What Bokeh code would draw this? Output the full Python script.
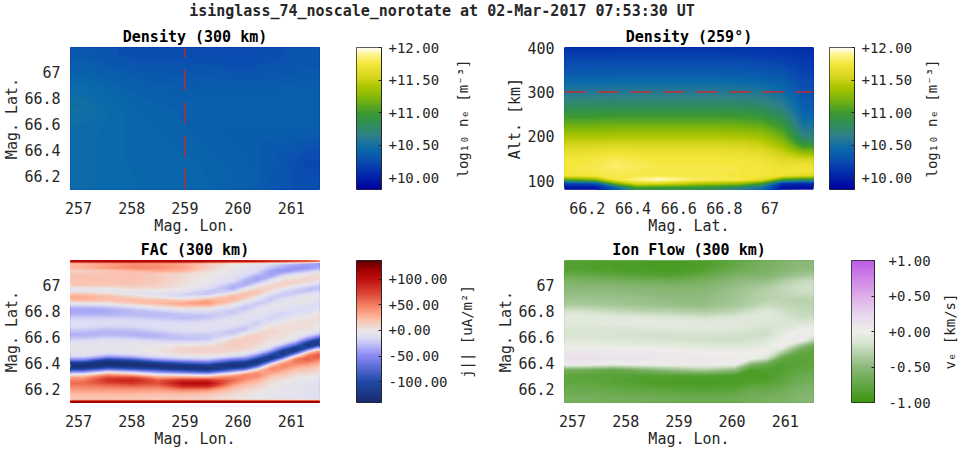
import numpy as np
from bokeh.embed import file_html
from bokeh.resources import INLINE
from bokeh.layouts import column, row
from bokeh.models import Range1d, FixedTicker, LinearColorMapper, Label, Title
from bokeh.plotting import figure

# ---------- text ----------
MAIN_TITLE = "isinglass_74_noscale_norotate at 02-Mar-2017 07:53:30 UT"
LON_TICKS = [257, 258, 259, 260, 261]
LAT_TICKS = [66.2, 66.4, 66.6, 66.8, 67]
LAT_TICK_LABELS = ["66.2", "66.4", "66.6", "66.8", "67"]
ALT_TICKS = [100, 200, 300, 400]
NE_TICKS = [10.0, 10.5, 11.0, 11.5, 12.0]
NE_LABELS = ["+10.00", "+10.50", "+11.00", "+11.50", "+12.00"]
J_TICKS = [-100, -50, 0, 50, 100]
J_LABELS = ["-100.00", "-50.00", "+0.00", "+50.00", "+100.00"]
V_TICKS = [-1, -0.5, 0, 0.5, 1]
V_LABELS = ["-1.00", "-0.50", "+0.00", "+0.50", "+1.00"]

LON_RANGE = (256.85, 261.53)
LAT_RANGE = (66.10, 67.19)
ALT_RANGE = (80, 400)
NE_RANGE = (9.82, 12.0)
J_RANGE = (-141, 137)
V_RANGE = (-1.0, 1.0)
SLICE_LON = 259
SLICE_ALT = 300

# ---------- colour maps (value, colour) ----------
NE_ANCHOR_V = [9.82, 10.0, 10.25, 10.45, 10.65, 10.85, 11.0, 11.2, 11.4, 11.55, 11.75, 11.9, 12.0]
NE_ANCHOR_C = ["#00009E", "#0020A8", "#0A4DB0", "#0A6AAA", "#2F8088", "#2F9050", "#3E9A30",
               "#79B40E", "#ADC600", "#D5D51C", "#F5E63C", "#FFF590", "#FFFFFF"]
J_ANCHOR_V = [-141, -100, -50, -15, 0, 25, 50, 75, 100, 120, 137]
J_ANCHOR_C = ["#1A2A6C", "#1F4BA8", "#8888F5", "#DCDCF5", "#EAE6E6", "#FFB8A0", "#F57F60",
              "#D94030", "#C01010", "#A00000", "#5A0000"]
V_ANCHOR_V = [-1, -0.5, -0.15, 0, 0.25, 0.5, 1]
V_ANCHOR_C = ["#3A9611", "#8DB97A", "#D8E5D2", "#EEEEEA", "#E8D5EE", "#DFADE8", "#BE5CE6"]

# ---------- Density at 300 km: rows from top to bottom ----------
NE_300 = [
    [10.33, 10.28, 10.27, 10.26, 10.25, 10.24, 10.24, 10.27, 10.30],
    [10.40, 10.36, 10.33, 10.32, 10.32, 10.31, 10.30, 10.31, 10.33],
    [10.46, 10.42, 10.38, 10.36, 10.35, 10.36, 10.36, 10.36, 10.37],
    [10.50, 10.45, 10.41, 10.39, 10.38, 10.38, 10.38, 10.38, 10.38],
    [10.47, 10.44, 10.42, 10.40, 10.38, 10.36, 10.36, 10.36, 10.37],
    [10.46, 10.44, 10.42, 10.41, 10.40, 10.37, 10.35, 10.33, 10.30],
    [10.46, 10.44, 10.42, 10.42, 10.41, 10.39, 10.36, 10.31, 10.22],
    [10.46, 10.44, 10.43, 10.42, 10.42, 10.40, 10.37, 10.30, 10.26],
]

# ---------- Density slice: one list per latitude, altitude from top to bottom ----------
NE_S0 = [10.12,10.15,10.19,10.23,10.26,10.30,10.34,10.39,10.44,10.49,10.54,10.59,10.65,10.71,10.77,10.84,10.91,10.99,11.07,11.15,11.23,11.31,11.39,11.47,11.54,11.61,11.67,11.71,11.74,11.75,11.76,11.76,11.72,11.10,10.20,9.95]
NE_S1 = [10.12,10.15,10.19,10.23,10.26,10.30,10.34,10.39,10.44,10.49,10.54,10.59,10.65,10.71,10.77,10.84,10.91,10.99,11.07,11.15,11.23,11.31,11.39,11.47,11.55,11.62,11.68,11.73,11.76,11.77,11.78,11.77,11.75,11.25,10.30,9.95]
NE_S2 = [10.12,10.16,10.20,10.24,10.27,10.31,10.35,10.40,10.45,10.50,10.55,10.60,10.66,10.72,10.78,10.85,10.92,11.00,11.08,11.16,11.24,11.32,11.40,11.48,11.56,11.64,11.71,11.76,11.80,11.83,11.83,11.80,11.78,11.75,11.20,10.40]
NE_S3 = [10.12,10.16,10.20,10.24,10.27,10.31,10.35,10.40,10.45,10.50,10.55,10.60,10.66,10.72,10.78,10.85,10.92,11.00,11.08,11.16,11.24,11.32,11.40,11.48,11.56,11.63,11.69,11.74,11.77,11.79,11.80,11.78,11.78,11.88,11.60,11.00]
NE_S4 = [10.12,10.16,10.20,10.24,10.27,10.31,10.35,10.40,10.45,10.50,10.55,10.60,10.66,10.72,10.78,10.85,10.92,11.00,11.08,11.16,11.24,11.32,11.40,11.48,11.55,11.62,11.68,11.72,11.75,11.76,11.77,11.77,11.78,11.98,11.60,10.95]
NE_S5 = [10.12,10.16,10.20,10.24,10.27,10.31,10.35,10.40,10.45,10.50,10.55,10.60,10.66,10.72,10.78,10.85,10.92,11.00,11.08,11.16,11.24,11.32,11.40,11.48,11.55,11.62,11.68,11.72,11.75,11.76,11.77,11.77,11.76,11.90,11.50,10.95]
NE_S6 = [10.12,10.16,10.20,10.24,10.27,10.31,10.35,10.40,10.45,10.50,10.55,10.60,10.66,10.72,10.78,10.85,10.92,11.00,11.08,11.16,11.24,11.32,11.40,11.48,11.55,11.62,11.68,11.72,11.75,11.76,11.77,11.77,11.76,11.82,11.40,10.90]
NE_S7 = [10.12,10.16,10.20,10.24,10.27,10.31,10.35,10.40,10.45,10.50,10.55,10.60,10.66,10.72,10.78,10.85,10.92,11.00,11.08,11.16,11.24,11.32,11.40,11.48,11.55,11.62,11.68,11.72,11.75,11.76,11.77,11.77,11.76,11.80,11.35,10.85]
NE_S8 = [10.12,10.15,10.19,10.23,10.26,10.30,10.34,10.39,10.44,10.49,10.54,10.59,10.65,10.71,10.77,10.84,10.91,10.99,11.07,11.15,11.23,11.31,11.39,11.47,11.54,11.61,11.67,11.71,11.74,11.75,11.76,11.76,11.75,11.78,11.30,10.70]
NE_S9 = [10.11,10.15,10.18,10.22,10.25,10.29,10.33,10.37,10.42,10.47,10.52,10.57,10.62,10.68,10.74,10.81,10.88,10.95,11.03,11.11,11.19,11.27,11.35,11.43,11.50,11.57,11.63,11.68,11.72,11.74,11.75,11.75,11.74,11.65,11.00,10.50]
NE_S10 = [10.10,10.13,10.16,10.19,10.22,10.26,10.29,10.32,10.36,10.40,10.44,10.48,10.53,10.58,10.63,10.68,10.74,10.80,10.87,10.94,11.01,11.09,11.17,11.25,11.33,11.41,11.49,11.56,11.62,11.67,11.71,11.73,11.70,11.00,10.10,9.95]
NE_S11 = [10.08,10.10,10.12,10.14,10.16,10.18,10.20,10.22,10.24,10.26,10.28,10.30,10.32,10.34,10.36,10.38,10.41,10.44,10.48,10.52,10.57,10.63,10.70,10.80,10.92,11.08,11.26,11.44,11.58,11.68,11.72,11.72,11.60,10.85,10.05,9.90]

# ---------- FAC: one list per longitude, latitude from top to bottom ----------
J_LONS = [257.08, 257.55, 258.02, 258.49, 258.96, 259.43, 259.90, 260.14, 260.37, 260.61, 260.84, 261.08, 261.31, 261.51]
J_C0 = [110,25,28,12,16,20,20,20,15,-4,-2,22,32,22,-3,-25,-38,-38,-30,-20,-14,-12,-14,-22,-30,-30,-22,-10,-6,-4,-4,-6,-18,-50,-110,-135,-120,-60,-5,35,50,58,50,40,30,22,15,125]
J_C1 = [115,35,38,15,18,20,20,18,14,0,-3,12,22,20,0,-20,-34,-36,-30,-20,-14,-14,-20,-28,-32,-26,-14,-8,-6,-6,-8,-16,-45,-105,-135,-130,-85,-20,35,70,85,72,55,42,30,22,15,125]
J_C2 = [115,42,46,25,18,20,20,18,15,6,-6,-2,14,24,14,-10,-24,-30,-28,-20,-14,-14,-18,-26,-32,-30,-18,-8,-4,-2,-4,-10,-32,-85,-130,-135,-100,-35,20,70,92,80,60,42,30,22,14,125]
J_C3 = [115,40,44,32,14,15,15,14,12,6,-4,-10,2,20,24,6,-14,-26,-30,-24,-16,-12,-12,-18,-26,-32,-26,-12,-4,0,2,-2,-14,-45,-105,-135,-115,-60,-10,35,65,68,55,40,28,20,12,125]
J_C4 = [115,32,35,28,8,6,6,5,4,0,-8,-20,-10,14,34,18,-6,-18,-26,-28,-20,-12,-10,-12,-18,-24,-26,-16,0,8,10,6,-8,-30,-80,-128,-130,-80,-20,35,85,105,85,55,32,20,12,125]
J_C5 = [112,15,14,6,2,0,-2,-3,-6,-14,-25,-22,4,32,40,18,-6,-16,-24,-24,-16,-10,-8,-10,-18,-24,-24,-14,2,10,12,8,-6,-25,-65,-118,-135,-95,-30,30,85,108,88,50,28,16,8,125]
J_C6 = [105,0,-2,-4,-6,-8,-12,-20,-33,-34,-18,12,28,22,6,-8,-20,-25,-18,-10,-6,-8,-14,-22,-25,-14,6,14,14,12,10,0,-20,-60,-110,-135,-105,-45,15,50,60,48,32,20,12,6,3,125]
J_C6B = [102,-3,-6,-9,-13,-20,-30,-37,-30,-8,10,22,16,2,-14,-23,-24,-15,-8,-7,-10,-16,-22,-22,-8,8,13,13,12,10,4,-8,-30,-70,-120,-130,-85,-15,42,50,40,28,18,10,5,3,0,125]
J_C7 = [100,-6,-10,-15,-25,-38,-40,-24,-4,10,20,12,-2,-14,-24,-18,-8,-4,-6,-12,-18,-22,-14,-2,8,12,12,10,8,4,-8,-30,-70,-120,-130,-85,-20,30,48,40,28,18,10,6,2,0,-2,125]
J_C7B = [92,-14,-25,-38,-42,-35,-16,-2,10,12,2,-12,-22,-24,-14,-6,-5,-10,-15,-19,-14,-4,4,8,8,7,5,2,-4,-16,-38,-85,-130,-115,-50,15,45,40,28,16,9,4,1,-2,-3,-4,-4,125]
J_C8 = [85,-20,-38,-45,-30,-8,4,12,12,0,-16,-24,-18,-8,-3,-4,-10,-16,-18,-12,-4,2,6,6,5,4,2,-6,-24,-60,-115,-130,-95,-30,30,50,42,30,18,10,4,0,-3,-5,-5,-6,-6,125]
J_C8B = [78,-30,-45,-38,-16,0,8,10,-2,-18,-25,-20,-8,-4,-5,-10,-15,-16,-8,-1,4,5,5,4,2,-3,-12,-30,-70,-120,-125,-65,10,52,52,38,25,15,8,2,-2,-5,-6,-7,-7,-7,-7,125]
J_C9 = [70,-38,-45,-28,-6,6,10,4,-14,-26,-24,-10,-4,-4,-8,-14,-16,-12,-4,2,4,5,4,2,-4,-20,-50,-100,-130,-105,-35,30,58,62,48,32,20,12,5,0,-4,-6,-8,-8,-8,-8,-8,125]
J_C9B = [60,-42,-35,-14,4,10,6,-8,-22,-25,-15,-6,-3,-6,-11,-13,-8,-2,3,5,5,3,1,-4,-16,-45,-95,-130,-110,-40,25,58,65,50,34,22,14,8,2,-3,-6,-8,-9,-9,-9,-9,-9,125]

# ---------- Ion flow: one list per longitude, latitude from top to bottom ----------
V_LONS = [257.15, 257.73, 258.32, 258.90, 259.48, 260.06, 260.35, 260.65, 260.93, 261.23, 261.49]
V_C0 = [-0.85,-0.85,-0.72,-0.60,-0.52,-0.47,-0.42,-0.36,-0.18,-0.08,-0.08,-0.14,-0.14,-0.10,-0.02,0.08,0.13,0.06,-0.65,-0.80,-0.78,-0.72,-0.68,-0.62]
V_C1 = [-0.88,-0.88,-0.78,-0.62,-0.52,-0.47,-0.42,-0.38,-0.25,-0.10,-0.07,-0.14,-0.16,-0.12,-0.03,0.07,0.12,-0.02,-0.75,-0.82,-0.82,-0.76,-0.70,-0.65]
V_C2 = [-0.90,-0.90,-0.82,-0.65,-0.54,-0.50,-0.45,-0.42,-0.30,-0.12,-0.07,-0.12,-0.17,-0.14,-0.05,0.05,0.10,0.02,-0.60,-0.85,-0.88,-0.80,-0.72,-0.66]
V_C3 = [-0.92,-0.92,-0.84,-0.68,-0.56,-0.52,-0.48,-0.45,-0.32,-0.15,-0.07,-0.10,-0.18,-0.16,-0.07,0.04,0.08,0.03,-0.45,-0.85,-0.90,-0.84,-0.74,-0.68]
V_C4 = [-0.88,-0.85,-0.74,-0.62,-0.55,-0.50,-0.48,-0.46,-0.36,-0.20,-0.08,-0.08,-0.16,-0.18,-0.10,0.00,0.06,0.04,-0.35,-0.85,-0.92,-0.86,-0.76,-0.70]
V_C5 = [-0.75,-0.70,-0.60,-0.50,-0.45,-0.42,-0.40,-0.38,-0.28,-0.14,-0.08,-0.10,-0.18,-0.20,-0.12,-0.02,0.05,0.02,-0.50,-0.88,-0.90,-0.84,-0.74,-0.68]
V_C5B = [-0.68,-0.65,-0.57,-0.47,-0.40,-0.36,-0.35,-0.32,-0.20,-0.10,-0.10,-0.14,-0.19,-0.17,-0.09,0.00,0.03,-0.50,-0.88,-0.90,-0.86,-0.75,-0.68,-0.64]
V_C6 = [-0.62,-0.60,-0.55,-0.45,-0.35,-0.30,-0.30,-0.22,-0.12,-0.08,-0.12,-0.18,-0.20,-0.12,-0.05,0.03,-0.15,-0.70,-0.85,-0.90,-0.85,-0.76,-0.68,-0.62]
V_C6B = [-0.57,-0.55,-0.48,-0.35,-0.27,-0.26,-0.28,-0.25,-0.18,-0.14,-0.14,-0.12,-0.08,0.00,0.03,-0.30,-0.72,-0.85,-0.85,-0.82,-0.78,-0.70,-0.64,-0.60]
V_C7 = [-0.52,-0.50,-0.42,-0.26,-0.20,-0.22,-0.28,-0.28,-0.24,-0.22,-0.15,-0.05,0.05,0.06,-0.40,-0.72,-0.82,-0.82,-0.78,-0.72,-0.68,-0.62,-0.58,-0.55]
V_C7B = [-0.50,-0.48,-0.38,-0.22,-0.18,-0.22,-0.28,-0.28,-0.26,-0.22,-0.12,-0.02,0.06,-0.25,-0.68,-0.78,-0.80,-0.78,-0.74,-0.68,-0.64,-0.58,-0.55,-0.52]

FONT = "DejaVu Sans Mono"
INK = "#262626"
BANDS = 100


def hex_rgb(c):
    return [int(c[i:i + 2], 16) for i in (1, 3, 5)]


def palette(values, colours, n=256):
    t = np.linspace(values[0], values[-1], n)
    rgb = np.array([hex_rgb(c) for c in colours], dtype=float)
    out = np.column_stack([np.interp(t, values, rgb[:, k]) for k in range(3)])
    return ["#%02x%02x%02x" % tuple(int(round(v)) for v in r) for r in out]


def node_axis(rng, n, given=None):
    """Sample positions plus the two edges of the range."""
    lo, hi = rng
    inner = np.array(given) if given is not None else lo + (hi - lo) / n * (np.arange(n) + 0.5)
    return np.concatenate([[lo], inner, [hi]])


def panel(title, xr, yr, grid, vr, anchors, xlabel, ylabel, xticks, yticks, width, left, right, top, bottom,
          xover=None, yover=None, xnodes=None, ynodes=None):
    p = figure(width=width, height=top + 143 + bottom, x_range=Range1d(*xr), y_range=Range1d(*yr),
               output_backend="svg", toolbar_location=None, min_border_left=left, min_border_right=right,
               min_border_top=top, min_border_bottom=bottom, title=title)
    z = np.pad(np.array(grid, dtype=float)[::-1], 1, mode="edge")
    nx = node_axis(xr, z.shape[1] - 2, xnodes)
    ny = node_axis(yr, z.shape[0] - 2, ynodes)
    # smooth shading: stacked filled contours through the typed samples, lowest level painted first
    levels = np.linspace(vr[0], vr[1], BANDS + 1)
    mids = 0.5 * (levels[:-1] + levels[1:])
    rgb = np.array([hex_rgb(c) for c in anchors[1]], dtype=float)
    cols = np.column_stack([np.interp(mids, anchors[0], rgb[:, k]) for k in range(3)])
    fills = ["#%02x%02x%02x" % tuple(int(round(v)) for v in r) for r in cols]
    top_value = z.max() + 1
    for lev, col in zip(levels[:-1], fills):
        if lev < z.max():
            p.contour(nx, ny, z, [lev, top_value], fill_color=[col], line_color=None)
    p.grid.visible = False
    p.outline_line_color = None
    p.title.align = "center"
    p.title.text_font = FONT
    p.title.text_font_size = "15px"
    p.title.text_font_style = "bold"
    p.title.text_color = "black"
    p.title.standoff = 3
    p.title.text_line_height = 1.0
    for ax, label, ticks, over, ms in ((p.xaxis[0], xlabel, xticks, xover, 6), (p.yaxis[0], ylabel, yticks, yover, 4)):
        ax.axis_label = label
        ax.ticker = FixedTicker(ticks=ticks)
        if over:
            ax.major_label_overrides = over
        ax.axis_line_color = None
        ax.major_tick_line_color = None
        ax.minor_tick_line_color = None
        ax.major_label_text_font = FONT
        ax.major_label_text_font_size = "15px"
        ax.major_label_text_color = INK
        ax.major_label_text_line_height = 1.0
        ax.axis_label_text_font = FONT
        ax.axis_label_text_font_size = "15px"
        ax.axis_label_text_font_style = "normal"
        ax.axis_label_text_color = INK
        ax.axis_label_text_line_height = 1.0
        ax.major_label_standoff = ms
        ax.axis_label_standoff = 0
    return p


def colorbar(mapper, vrange, ticks, labels, left, right, top, bottom, bar_w, standoff):
    ramp = np.linspace(vrange[0], vrange[1], 256).reshape(-1, 1)
    p = figure(width=left + bar_w + right, height=top + 143 + bottom, x_range=Range1d(0, 1),
               y_range=Range1d(*vrange), output_backend="svg", toolbar_location=None,
               y_axis_location="right", min_border_left=left, min_border_right=right,
               min_border_top=top, min_border_bottom=bottom)
    p.image(image=[ramp], x=0, y=vrange[0], dw=1, dh=vrange[1] - vrange[0], color_mapper=mapper)
    p.grid.visible = False
    p.xaxis.visible = False
    p.outline_line_color = INK
    ax = p.yaxis[0]
    ax.ticker = FixedTicker(ticks=ticks)
    ax.major_label_overrides = dict(zip(ticks, labels))
    ax.major_tick_in = 3
    ax.major_tick_out = 0
    ax.minor_tick_line_color = None
    ax.axis_line_color = INK
    ax.major_tick_line_color = INK
    ax.major_label_text_font = FONT
    ax.major_label_text_font_size = "14px"
    ax.major_label_text_color = INK
    ax.major_label_standoff = standoff
    return p


def side_label(text, width, left, top, bottom):
    """Narrow empty figure that only carries the upward-reading colour bar label."""
    p = figure(width=width, height=top + 143 + bottom, x_range=Range1d(0, 1), y_range=Range1d(0, 1),
               output_backend="svg", toolbar_location=None, min_border_left=left, min_border_right=0,
               min_border_top=top, min_border_bottom=bottom)
    p.axis.visible = False
    p.grid.visible = False
    p.outline_line_color = None
    p.add_layout(Title(text=text, align="center", text_font=FONT, text_font_size="14px", text_font_style="normal",
                       text_color=INK, standoff=0), "left")
    return p


ne_map = LinearColorMapper(palette=palette(NE_ANCHOR_V, NE_ANCHOR_C), low=NE_RANGE[0], high=NE_RANGE[1])
j_map = LinearColorMapper(palette=palette(J_ANCHOR_V, J_ANCHOR_C), low=J_RANGE[0], high=J_RANGE[1])
v_map = LinearColorMapper(palette=palette(V_ANCHOR_V, V_ANCHOR_C), low=V_RANGE[0], high=V_RANGE[1])
ne_anchor = (NE_ANCHOR_V, NE_ANCHOR_C)
j_anchor = (J_ANCHOR_V, J_ANCHOR_C)
v_anchor = (V_ANCHOR_V, V_ANCHOR_C)

ne_slice = np.array([NE_S0, NE_S1, NE_S2, NE_S3, NE_S4, NE_S5, NE_S6, NE_S7, NE_S8, NE_S9, NE_S10, NE_S11]).T
fac = np.array([J_C0, J_C1, J_C2, J_C3, J_C4, J_C5, J_C6, J_C6B, J_C7, J_C7B, J_C8, J_C8B, J_C9, J_C9B]).T
flow = np.array([V_C0, V_C1, V_C2, V_C3, V_C4, V_C5, V_C5B, V_C6, V_C6B, V_C7, V_C7B]).T

lat_over = dict(zip(LAT_TICKS, LAT_TICK_LABELS))

# the thin red rims of the FAC panel: outermost samples pulled towards the frame edge
fac_lat_nodes = node_axis(LAT_RANGE, fac.shape[0])[1:-1]
lat_step = (LAT_RANGE[1] - LAT_RANGE[0]) / fac.shape[0]
fac_lat_nodes[0] = LAT_RANGE[0] + 0.22 * lat_step
fac_lat_nodes[1] = LAT_RANGE[0] + 1.00 * lat_step
fac_lat_nodes[-2] = LAT_RANGE[1] - 1.00 * lat_step
fac_lat_nodes[-1] = LAT_RANGE[1] - 0.22 * lat_step

a = panel("Density (300 km)", LON_RANGE, LAT_RANGE, NE_300, NE_RANGE, ne_anchor, "Mag. Lon.", "Mag. Lat.",
          LON_TICKS, LAT_TICKS, 346, 70, 27, 24, 47, yover=lat_over)
a.line([SLICE_LON, SLICE_LON], LAT_RANGE, line_color="#E02020", line_width=1.2, line_dash=[21, 12])
ca = colorbar(ne_map, NE_RANGE, NE_TICKS, NE_LABELS, 10, 71, 24, 47, 25, 7)
sa = side_label("log₁₀ nₑ [m⁻³]", 42, 15, 24, 47)

b = panel("Density (259°)", LAT_RANGE, ALT_RANGE, ne_slice, NE_RANGE, ne_anchor, "Mag. Lat.", "Alt. [km]",
          LAT_TICKS, ALT_TICKS, 325, 70, 6, 24, 47, xover=lat_over)
b.line(LAT_RANGE, [SLICE_ALT, SLICE_ALT], line_color="#E02020", line_width=1.2, line_dash=[21, 12])
cb = colorbar(ne_map, NE_RANGE, NE_TICKS, NE_LABELS, 10, 60, 24, 47, 26, 7)
sb = side_label("log₁₀ nₑ [m⁻³]", 52, 24, 24, 47)

c = panel("FAC (300 km)", LON_RANGE, LAT_RANGE, fac, J_RANGE, j_anchor, "Mag. Lon.", "Mag. Lat.",
          LON_TICKS, LAT_TICKS, 346, 70, 27, 23, 47, yover=lat_over, xnodes=J_LONS, ynodes=fac_lat_nodes)
cc = colorbar(j_map, J_RANGE, J_TICKS, J_LABELS, 10, 73, 23, 47, 25, 7)
sc = side_label("j|| [uA/m²]", 40, 20, 23, 47)

d = panel("Ion Flow (300 km)", LON_RANGE, LAT_RANGE, flow, V_RANGE, v_anchor, "Mag. Lon.", "Mag. Lat.",
          LON_TICKS, LAT_TICKS, 347, 70, 28, 23, 47, yover=lat_over, xnodes=V_LONS)
cd = colorbar(v_map, V_RANGE, V_TICKS, V_LABELS, 10, 57, 23, 47, 25, 14)
sd = side_label("vₑ [km/s]", 34, 24, 23, 47)

head = figure(width=967, height=23, x_range=Range1d(0, 1), y_range=Range1d(0, 1), output_backend="svg",
              toolbar_location=None, min_border_left=70, min_border_right=154, min_border_top=0, min_border_bottom=0)
head.axis.visible = False
head.grid.visible = False
head.outline_line_color = None
head.add_layout(Label(x=0.5, y=0.56, text=MAIN_TITLE, text_font=FONT, text_font_size="15px", text_font_style="bold",
                      text_color=INK, text_align="center", text_baseline="middle"))

page = column(head, row(a, ca, sa, b, cb, sb), row(c, cc, sc, d, cd, sd), margin=(0, 0, 0, 0), spacing=0)
open("out.html", "w").write(file_html(page, INLINE))
